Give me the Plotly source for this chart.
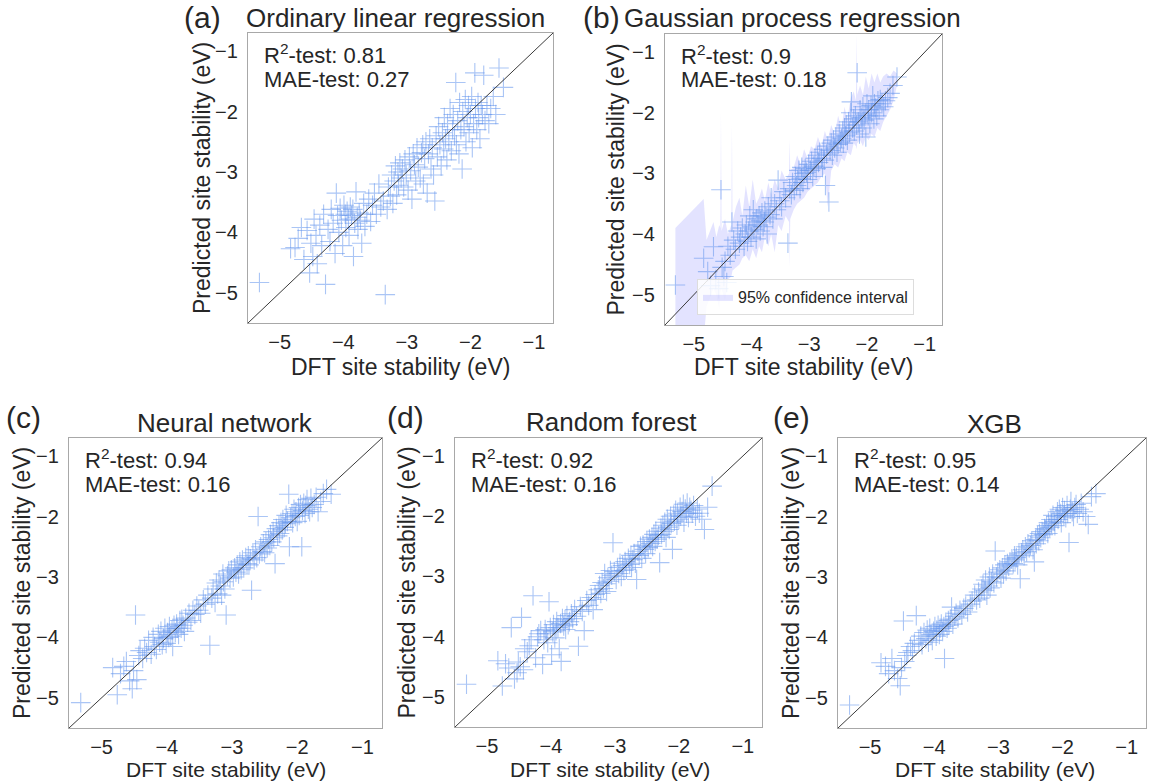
import plotly.graph_objects as go

W, H = 1150, 782

# ---------------- data ----------------
dft = [
    -5.32,
    -4.83, -4.76, -4.71, -4.66, -4.62, -4.57, -4.53, -4.51, -4.48,
    -4.46, -4.43, -4.41, -4.37, -4.34, -4.31, -4.28, -4.24, -4.21, -4.19,
    -4.16, -4.13, -4.11, -4.09, -4.07, -4.05, -4.03, -4.01, -3.99, -3.97,
    -3.96, -3.94, -3.92, -3.91, -3.89, -3.87, -3.85, -3.84, -3.82, -3.80,
    -3.78, -3.77, -3.75, -3.73, -3.71, -3.68, -3.66, -3.63, -3.60, -3.57,
    -3.54, -3.51, -3.48, -3.44, -3.41, -3.37, -3.34, -3.31, -3.29, -3.26,
    -3.24, -3.22, -3.20, -3.18, -3.16, -3.14, -3.13, -3.11, -3.09, -3.07,
    -3.05, -3.03, -3.01, -2.98, -2.96, -2.94, -2.92, -2.90, -2.88, -2.86,
    -2.84, -2.82, -2.79, -2.77, -2.75, -2.74, -2.72, -2.70, -2.68, -2.66,
    -2.64, -2.62, -2.60, -2.58, -2.56, -2.54, -2.52, -2.50, -2.48, -2.46,
    -2.44, -2.42, -2.41, -2.39, -2.37, -2.36, -2.34, -2.32, -2.30, -2.28,
    -2.27, -2.25, -2.23, -2.22, -2.20, -2.18, -2.17, -2.15, -2.13, -2.12,
    -2.10, -2.08, -2.07, -2.05, -2.03, -2.02, -2.00, -1.98, -1.97, -1.95,
    -1.93, -1.92, -1.90, -1.88, -1.87, -1.85, -1.83, -1.81, -1.79, -1.77,
    -1.74, -1.71, -1.68, -1.64, -1.60, -1.55, -1.48,
]

pred_olr = [
    -4.83, -4.27, -4.25, -4.10, -3.92, -4.45, -3.97, -4.67, -4.18, -4.40,
    -3.78, -4.05, -4.52, -3.88, -4.22, -3.70, -4.86, -3.95, -4.15, -3.62,
    -3.85, -4.35, -3.35, -3.72, -4.00, -3.60, -3.80, -4.22, -3.55, -3.70,
    -3.92, -3.65, -3.78, -4.05, -3.58, -3.72, -3.62, -4.40, -3.85, -3.33,
    -3.75, -3.95, -3.68, -3.80, -4.18, -3.52, -3.90, -3.70, -3.45, -3.82,
    -3.55, -3.35, -3.70, -3.20, -3.58, -3.48, -5.03, -3.62, -3.25, -3.40,
    -3.05, -3.52, -3.15, -2.90, -3.38, -3.00, -3.22, -2.85, -3.10, -2.95,
    -3.25, -2.80, -3.05, -3.30, -2.75, -2.98, -3.45, -2.70, -2.88, -3.15,
    -2.60, -2.92, -3.10, -2.68, -2.55, -3.20, -2.78, -2.50, -3.35, -2.70,
    -2.45, -2.95, -2.60, -3.05, -3.48, -2.40, -2.75, -2.25, -2.55, -2.90,
    -2.35, -2.62, -2.10, -2.45, -2.80, -2.20, -2.50, -1.95, -2.65, -2.30,
    -2.05, -2.40, -1.52, -2.55, -2.15, -2.70, -1.85, -2.30, -2.95, -2.00,
    -2.25, -1.80, -2.50, -2.10, -1.90, -2.35, -2.05, -1.75, -2.60, -2.20,
    -1.36, -1.95, -2.30, -1.85, -2.10, -2.45, -1.90, -2.05, -1.40, -2.15,
    -1.90, -2.20, -1.95, -1.75, -2.05, -1.28, -1.60,
]

pred_gpr = [
    -4.84, -4.40, -4.62, -4.85, -4.21, -4.75, -4.90, -3.27, -4.55, -4.70,
    -4.45, -4.80, -4.20, -4.35, -3.80, -4.10, -4.25, -3.95, -4.15, -4.05,
    -3.90, -4.20, -4.00, -3.85, -4.12, -3.95, -3.70, -4.05, -3.88, -3.60,
    -3.92, -3.80, -4.08, -3.75, -3.85, -3.70, -3.95, -3.78, -3.65, -3.88,
    -3.80, -3.62, -3.72, -4.00, -3.55, -3.68, -3.40, -3.75, -3.50, -3.60,
    -3.11, -3.45, -3.55, -3.30, -3.40, -4.15, -3.25, -3.35, -3.15, -3.28,
    -3.05, -3.20, -3.10, -2.95, -3.25, -3.08, -2.90, -3.15, -3.00, -2.92,
    -2.98, -3.10, -2.85, -2.95, -2.80, -3.05, -2.88, -2.75, -2.92, -2.70,
    -2.82, -2.65, -2.75, -2.90, -2.60, -2.78, -3.20, -2.68, -2.55, -3.47,
    -2.62, -2.50, -2.70, -2.45, -2.58, -2.40, -2.65, -2.52, -2.35, -2.48,
    -2.42, -2.30, -2.50, -2.25, -2.38, -2.20, -2.45, -2.15, -2.32, -2.00,
    -1.82, -2.25, -2.10, -2.30, -2.05, -2.20, -1.34, -2.15, -2.35, -1.95,
    -2.08, -2.25, -1.90, -2.12, -2.02, -2.40, -1.85, -2.05, -1.95, -2.18,
    -1.88, -2.00, -1.72, -2.10, -1.85, -1.92, -2.05, -1.80, -1.95, -1.78,
    -1.85, -1.90, -1.80, -1.75, -1.68, -1.55, -1.41,
]

pred_nn = [
    -5.08, -4.50, -4.95, -4.60, -4.48, -4.40, -4.72, -4.85, -4.55, -3.63,
    -4.70, -4.30, -4.22, -4.35, -4.18, -4.25, -4.05, -4.28, -4.00, -4.15,
    -4.20, -3.95, -4.08, -3.90, -4.12, -4.02, -3.85, -4.10, -3.92, -4.00,
    -3.82, -3.98, -3.88, -4.15, -3.80, -3.92, -3.78, -3.85, -3.95, -3.72,
    -3.85, -3.70, -3.80, -3.90, -3.68, -3.75, -3.60, -3.72, -3.55, -3.62,
    -3.48, -3.55, -3.60, -3.38, -3.45, -3.30, -4.13, -3.35, -3.20, -3.42,
    -3.10, -3.28, -3.05, -3.15, -3.30, -2.95, -3.08, -3.20, -3.63, -2.98,
    -2.90, -3.02, -2.88, -3.00, -2.85, -2.92, -2.80, -2.95, -2.75, -2.88,
    -2.72, -2.85, -2.68, -2.78, -2.65, -2.80, -2.70, -3.22, -2.60, -2.72,
    -2.55, -2.68, -2.00, -2.62, -2.50, -2.58, -2.45, -2.60, -2.42, -2.52,
    -2.38, -2.48, -2.30, -2.42, -2.25, -2.35, -2.78, -2.20, -2.32, -2.15,
    -2.28, -2.10, -2.22, -2.05, -2.18, -2.12, -1.98, -2.08, -1.63, -2.50,
    -2.02, -1.95, -2.10, -1.88, -2.00, -1.92, -2.08, -1.85, -1.98, -1.80,
    -2.50, -1.90, -1.78, -1.95, -1.82, -1.72, -1.88, -1.92, -1.70, -1.85,
    -1.80, -1.68, -1.92, -1.75, -1.62, -1.55, -1.63,
]

pred_rf = [
    -4.79, -4.40, -4.82, -4.45, -4.52, -3.85, -4.70, -4.60, -4.42, -4.50,
    -3.68, -4.55, -4.20, -4.25, -4.15, -4.05, -3.32, -4.35, -4.00, -3.95,
    -3.90, -4.46, -4.05, -3.88, -3.95, -4.10, -3.42, -3.85, -4.30, -3.92,
    -3.80, -4.02, -3.90, -3.75, -3.85, -4.20, -3.78, -4.41, -3.70, -3.82,
    -3.72, -3.88, -3.65, -3.80, -3.75, -3.62, -3.70, -3.55, -3.66, -4.16,
    -3.50, -3.58, -3.90, -3.40, -3.48, -3.35, -3.55, -3.30, -3.38, -3.22,
    -3.15, -3.28, -3.10, -3.20, -2.95, -3.12, -3.25, -3.02, -3.08, -2.90,
    -2.98, -2.44, -2.92, -3.05, -2.85, -2.95, -2.78, -3.00, -2.82, -2.90,
    -2.75, -2.88, -2.70, -2.80, -2.65, -2.85, -2.72, -2.62, -2.78, -3.05,
    -2.58, -2.65, -2.50, -2.70, -2.48, -2.55, -2.62, -2.42, -2.52, -2.38,
    -2.45, -2.35, -2.50, -2.30, -2.42, -2.25, -2.38, -2.32, -2.77, -2.20,
    -2.30, -2.15, -2.25, -2.10, -2.35, -2.05, -2.18, -2.22, -2.00, -2.12,
    -2.55, -1.98, -2.08, -1.90, -2.15, -1.95, -2.05, -1.85, -2.00, -1.92,
    -1.80, -2.10, -1.88, -1.95, -1.78, -2.02, -1.85, -1.90, -1.95, -1.82,
    -2.00, -1.88, -1.95, -2.05, -2.22, -1.85, -1.50,
]

pred_xgb = [
    -5.12, -4.42, -4.48, -4.60, -4.35, -4.55, -4.68, -4.80, -4.50, -3.73,
    -4.40, -4.30, -4.25, -4.15, -4.22, -4.10, -3.64, -4.05, -3.98, -4.12,
    -3.92, -4.02, -3.88, -4.08, -3.85, -3.95, -4.05, -3.90, -3.82, -3.98,
    -3.88, -3.80, -3.95, -3.85, -3.78, -3.90, -3.82, -4.35, -3.75, -3.85,
    -3.72, -3.80, -3.70, -3.50, -3.78, -3.65, -3.60, -3.68, -3.55, -3.62,
    -3.52, -3.48, -3.58, -3.45, -3.40, -3.30, -3.38, -3.25, -3.35, -3.20,
    -3.12, -3.22, -3.05, -3.30, -3.15, -3.00, -3.18, -3.08, -2.95, -3.10,
    -2.57, -3.00, -2.92, -2.88, -3.02, -2.85, -2.95, -2.80, -2.90, -2.78,
    -2.82, -2.75, -2.70, -2.78, -2.65, -2.72, -2.68, -2.80, -2.62, -3.03,
    -2.60, -2.55, -2.65, -2.50, -2.58, -2.45, -2.52, -2.48, -2.40, -2.55,
    -2.75, -2.38, -2.45, -2.32, -2.40, -2.28, -2.35, -2.25, -2.30, -2.20,
    -2.22, -2.15, -2.28, -2.10, -2.18, -2.05, -2.12, -1.98, -2.08, -2.15,
    -2.00, -1.92, -2.05, -1.88, -1.95, -2.10, -1.85, -1.98, -1.90, -2.02,
    -1.82, -1.95, -2.43, -1.88, -1.75, -1.92, -2.00, -1.85, -1.80, -1.95,
    -1.88, -1.78, -1.92, -2.00, -2.13, -1.67, -1.62,
]

# GPR 95% confidence band (sorted by DFT value)
ci_x = [-5.32, -4.83, -4.78, -4.72, -4.66, -4.61, -4.56, -4.54, -4.53, -4.52,
        -4.46, -4.41, -4.35, -4.34, -4.33, -4.27, -4.21, -4.16, -4.10, -4.04,
        -3.98, -3.92, -3.87, -3.82, -3.77, -3.71, -3.66, -3.60, -3.54, -3.48,
        -3.41, -3.35, -3.34, -3.33, -3.27, -3.21, -3.15, -3.09, -3.03, -2.97,
        -2.91, -2.85, -2.79, -2.73, -2.68, -2.62, -2.56, -2.50, -2.44, -2.39,
        -2.34, -2.28, -2.23, -2.19, -2.18, -2.17, -2.12, -2.07, -2.02, -1.97,
        -1.92, -1.87, -1.82, -1.77, -1.72, -1.66, -1.60, -1.54, -1.48]
ci_hi = [-3.90, -3.42, -4.10, -3.95, -3.80, -4.05, -3.85, -3.90, -2.00, -3.95,
         -3.75, -4.00, -3.85, -2.20, -3.80, -3.55, -3.40, -3.70, -3.20, -3.55,
         -3.10, -3.50, -3.40, -3.25, -3.45, -3.15, -3.35, -3.10, -3.25, -2.95,
         -3.10, -3.00, -2.45, -2.95, -2.90, -2.70, -2.85, -2.60, -2.75, -2.55,
         -2.60, -2.40, -2.55, -2.30, -2.45, -2.20, -2.35, -2.05, -2.25, -1.90,
         -2.10, -1.75, -1.65, -1.80, -0.70, -1.70, -1.55, -1.70, -1.40, -1.60,
         -1.35, -1.50, -1.35, -1.50, -1.40, -1.35, -1.40, -1.30, -1.35]
ci_lo = [-5.95, -5.75, -5.20, -5.05, -4.90, -5.00, -5.25, -4.95, -4.95, -4.90,
         -5.10, -4.75, -4.70, -4.65, -4.60, -4.55, -4.50, -4.40, -4.35, -4.45,
         -4.25, -4.40, -4.20, -4.30, -4.05, -4.20, -4.00, -4.30, -3.85, -3.95,
         -3.70, -3.80, -4.55, -3.75, -3.60, -3.50, -3.45, -3.40, -3.30, -3.25,
         -3.20, -3.15, -3.05, -3.00, -3.55, -2.95, -2.85, -2.90, -2.75, -2.80,
         -2.65, -2.70, -2.50, -2.55, -2.60, -2.50, -2.45, -2.55, -2.40, -2.45,
         -2.35, -2.40, -2.25, -2.30, -2.15, -2.05, -1.95, -1.80, -1.55]

model_titles = ["Ordinary linear regression", "Gaussian process regression",
                "Neural network", "Random forest", "XGB"]
panel_labels = ["(a)", "(b)", "(c)", "(d)", "(e)"]
r2_values = ["0.81", "0.9", "0.94", "0.92", "0.95"]
mae_values = ["0.27", "0.18", "0.16", "0.16", "0.14"]
predictions = [pred_olr, pred_gpr, pred_nn, pred_rf, pred_xgb]

tick_vals = [-5, -4, -3, -2, -1]
tick_text = ["\u22125", "\u22124", "\u22123", "\u22122", "\u22121"]
axis_range = [-5.5, -0.7]

# ---------------- layout geometry (pixels) ----------------
boxes = [  # left, right, top, bottom
    (248, 553, 33, 323),
    (665, 942, 34, 325),
    (69, 382, 438, 728),
    (455, 762, 438, 727),
    (838, 1146, 438, 728),
]
title_pos = [(395, 18), (792, 18), (225, 423), (611, 422), (994, 424)]
label_pos = [(202, 18), (601, 18), (23, 417), (405, 417), (791, 417)]
xtitle_x = [400, 803, 226, 610, 995]
ytitle_x = [202, 616, 22, 406, 791]

FONT = "Liberation Sans, Arial, Helvetica, sans-serif"
TXT = "#262626"
MARK = "rgba(100,149,237,0.55)"


def px(x):
    return x / W


def py(y):
    return 1 - y / H


fig = go.Figure()
annotations = []

for i in range(5):
    n = "" if i == 0 else str(i + 1)
    xa, ya = "x" + n, "y" + n
    l, r, t, b = boxes[i]

    if i == 1:
        fig.add_trace(go.Scatter(
            x=ci_x + ci_x[::-1], y=ci_hi + ci_lo[::-1],
            fill="toself", fillcolor="rgba(140,140,255,0.24)",
            line=dict(width=0), mode="lines", name="95% confidence interval",
            showlegend=True, xaxis=xa, yaxis=ya, hoverinfo="skip"))

    fig.add_trace(go.Scatter(
        x=dft, y=predictions[i], mode="markers",
        marker=dict(symbol="cross-thin", size=14,
                    line=dict(width=1.1, color=MARK), color=MARK),
        showlegend=False, xaxis=xa, yaxis=ya))

    fig.add_trace(go.Scatter(
        x=axis_range, y=axis_range, mode="lines",
        line=dict(color="#3a3a3a", width=1), showlegend=False,
        xaxis=xa, yaxis=ya, hoverinfo="skip"))

    common = dict(range=axis_range, showgrid=False, zeroline=False,
                  showline=True, mirror=True, linecolor="#a8a8a8", linewidth=1.3,
                  tickmode="array", tickvals=tick_vals, ticktext=tick_text,
                  ticks="outside", tickcolor="rgba(0,0,0,0)",
                  tickfont=dict(size=20, color=TXT, family=FONT))
    fig.update_layout(**{
        "xaxis" + n: dict(domain=[px(l), px(r)], anchor=ya, ticklen=1, **common),
        "yaxis" + n: dict(domain=[py(b), py(t)], anchor=xa, ticklen=5, **common),
    })

    if i < 2:
        xtitle = dict(text="DFT site stability (eV)", x=px(xtitle_x[i]), y=py(367),
                      yanchor="middle", font=dict(size=23, color=TXT, family=FONT))
    else:
        xtitle = dict(text="DFT site stability (eV)", x=px(xtitle_x[i]), y=0,
                      yanchor="bottom", borderpad=0,
                      font=dict(size=21, color=TXT, family=FONT))

    annotations += [
        dict(text=model_titles[i], x=px(title_pos[i][0]), y=py(title_pos[i][1]),
             font=dict(size=26, color=TXT, family=FONT)),
        dict(text=panel_labels[i], x=px(label_pos[i][0]), y=py(label_pos[i][1]),
             font=dict(size=30, color=TXT, family=FONT)),
        xtitle,
        dict(text="Predicted site stability (eV)", x=px(ytitle_x[i]), y=py((t + b) / 2),
             textangle=-90, font=dict(size=23, color=TXT, family=FONT)),
        dict(text="R<sup>2</sup>-test: " + r2_values[i], x=px(l + 14), y=py(t + 21),
             xanchor="left", font=dict(size=22, color=TXT, family=FONT)),
        dict(text="MAE-test: " + mae_values[i], x=px(l + 14), y=py(t + 46),
             xanchor="left", font=dict(size=22, color=TXT, family=FONT)),
    ]

for a in annotations:
    a.setdefault("xanchor", "center")
    a.setdefault("yanchor", "middle")
    a.update(xref="paper", yref="paper", showarrow=False)

fig.update_layout(
    width=W, height=H, margin=dict(l=0, r=0, t=0, b=0),
    paper_bgcolor="white", plot_bgcolor="white",
    font=dict(family=FONT, color=TXT),
    annotations=annotations,
    legend=dict(x=px(697), y=py(315), xanchor="left", yanchor="bottom",
                bgcolor="rgba(255,255,255,0.85)", bordercolor="#dddddd", borderwidth=1,
                font=dict(size=16, color=TXT, family=FONT), itemwidth=30),
)

fig.write_html("out.html")
